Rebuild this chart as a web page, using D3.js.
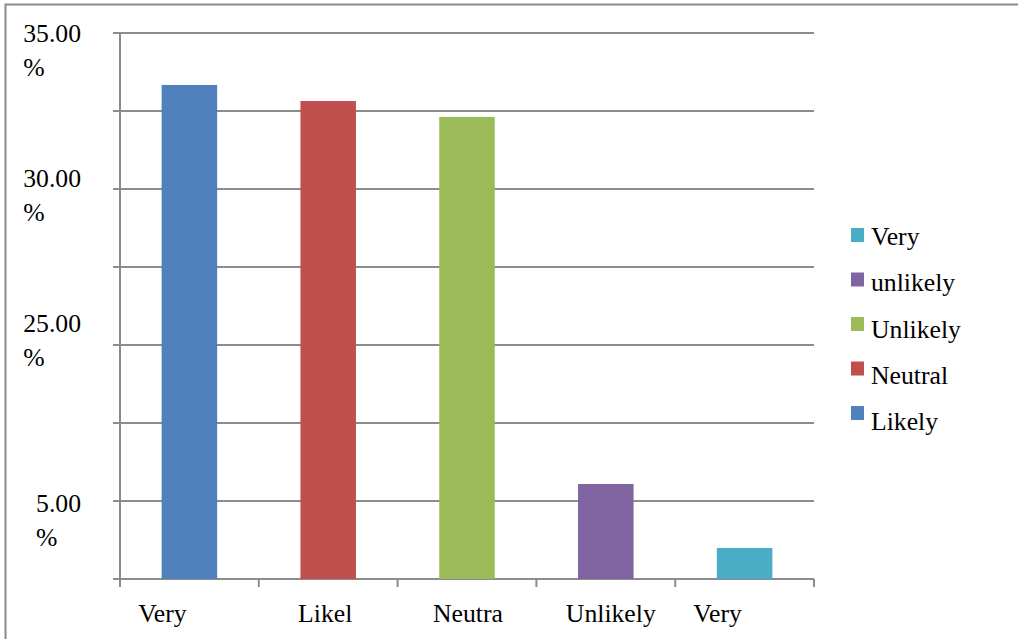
<!DOCTYPE html>
<html>
<head>
<meta charset="utf-8">
<script src="https://cdn.jsdelivr.net/npm/d3@7"></script>
<style>
  html, body { margin: 0; padding: 0; background: #fff; }
  svg { display: block; }
  text { font-family: "Liberation Serif", "Times New Roman", serif; fill: #000; }
</style>
</head>
<body>
<svg id="chart" width="1018" height="639"></svg>
<script>
// Survey responses (share of respondents, %)
const categories = ["Very", "Likel", "Neutra", "Unlikely", "Very"];
const values = [31.67, 30.64, 29.62, 6.09, 1.99];
const barColors = ["#4F81BD", "#C0504D", "#9BBB59", "#8064A2", "#4BACC6"];

// Value axis
const yGridValues = [0, 5, 10, 15, 20, 25, 30, 35];
const yLabelValues = [35, 25, 15, 5];
const yLabelTexts = ["35.00", "30.00", "25.00", "5.00"];

// Legend (top to bottom), each entry refers to a bar's series index
const legendLabels = ["Very", "unlikely", "Unlikely", "Neutral", "Likely"];
const legendSeries = [4, 3, 2, 1, 0];

const svg = d3.select("#chart");
const fontSize = 25.7;

// Plot area
const plot = { left: 120, right: 814, top: 33, bottom: 579 };

const x = d3.scaleBand()
  .domain(d3.range(categories.length))
  .range([plot.left, plot.right])
  .padding(0);

const y = d3.scaleLinear()
  .domain([0, 35])
  .range([plot.bottom, plot.top]);

const gridColor = "#8c8c8c";

// Outer frame (top and left edges)
svg.append("path")
  .attr("d", `M5.5,639 L5.5,4.5 L1018,4.5`)
  .attr("fill", "none")
  .attr("stroke", "#8a8a8a")
  .attr("stroke-width", 2);

// Horizontal gridlines with their short tick stubs
svg.append("g")
  .selectAll("line")
  .data(yGridValues)
  .join("line")
  .attr("x1", plot.left - 7)
  .attr("x2", plot.right)
  .attr("y1", d => y(d))
  .attr("y2", d => y(d))
  .attr("stroke", gridColor)
  .attr("stroke-width", 2);

// Vertical axis line
svg.append("line")
  .attr("x1", plot.left).attr("x2", plot.left)
  .attr("y1", plot.top).attr("y2", plot.bottom + 8)
  .attr("stroke", gridColor)
  .attr("stroke-width", 2);

// Category tick marks below the baseline
const boundaries = d3.range(categories.length + 1).map(i =>
  i < categories.length ? x(i) : x(categories.length - 1) + x.bandwidth());
svg.append("g")
  .selectAll("line")
  .data(boundaries)
  .join("line")
  .attr("x1", d => d).attr("x2", d => d)
  .attr("y1", plot.bottom)
  .attr("y2", plot.bottom + 8)
  .attr("stroke", gridColor)
  .attr("stroke-width", 2);

// Bars
const barWidth = x.bandwidth() * 0.4;
svg.append("g")
  .selectAll("rect")
  .data(values)
  .join("rect")
  .attr("x", (d, i) => x(i) + (x.bandwidth() - barWidth) / 2)
  .attr("y", d => y(d))
  .attr("width", barWidth)
  .attr("height", d => y(0) - y(d))
  .attr("fill", (d, i) => barColors[i]);

// Value-axis labels: number right-aligned, "%" wrapped onto a second line
const yLabelShift = [9, -2, -13, 11];
const yLabelRight = 81;
const lineGap = 34;
yLabelValues.forEach((v, i) => {
  const baseY = y(v) + yLabelShift[i];
  const t = svg.append("text")
    .attr("x", yLabelRight)
    .attr("y", baseY)
    .attr("text-anchor", "end")
    .attr("font-size", fontSize)
    .text(yLabelTexts[i]);
  const w = t.node().getComputedTextLength();
  svg.append("text")
    .attr("x", yLabelRight - w)
    .attr("y", baseY + lineGap)
    .attr("font-size", fontSize)
    .text("%");
});

// Category labels
const xLabelShift = [-27, -3, 1, 5, -27];
svg.append("g")
  .selectAll("text")
  .data(categories)
  .join("text")
  .attr("x", (d, i) => x(i) + x.bandwidth() / 2 + xLabelShift[i])
  .attr("y", 622)
  .attr("text-anchor", "middle")
  .attr("font-size", fontSize)
  .text(d => d);

// Legend
const legend = svg.append("g");
legendLabels.forEach((label, i) => {
  legend.append("rect")
    .attr("x", 851)
    .attr("y", 228 + i * 44.5)
    .attr("width", 13)
    .attr("height", 14)
    .attr("fill", barColors[legendSeries[i]]);
  legend.append("text")
    .attr("x", 871)
    .attr("y", 245 + i * 46.3)
    .attr("font-size", fontSize)
    .text(label);
});
</script>
</body>
</html>
